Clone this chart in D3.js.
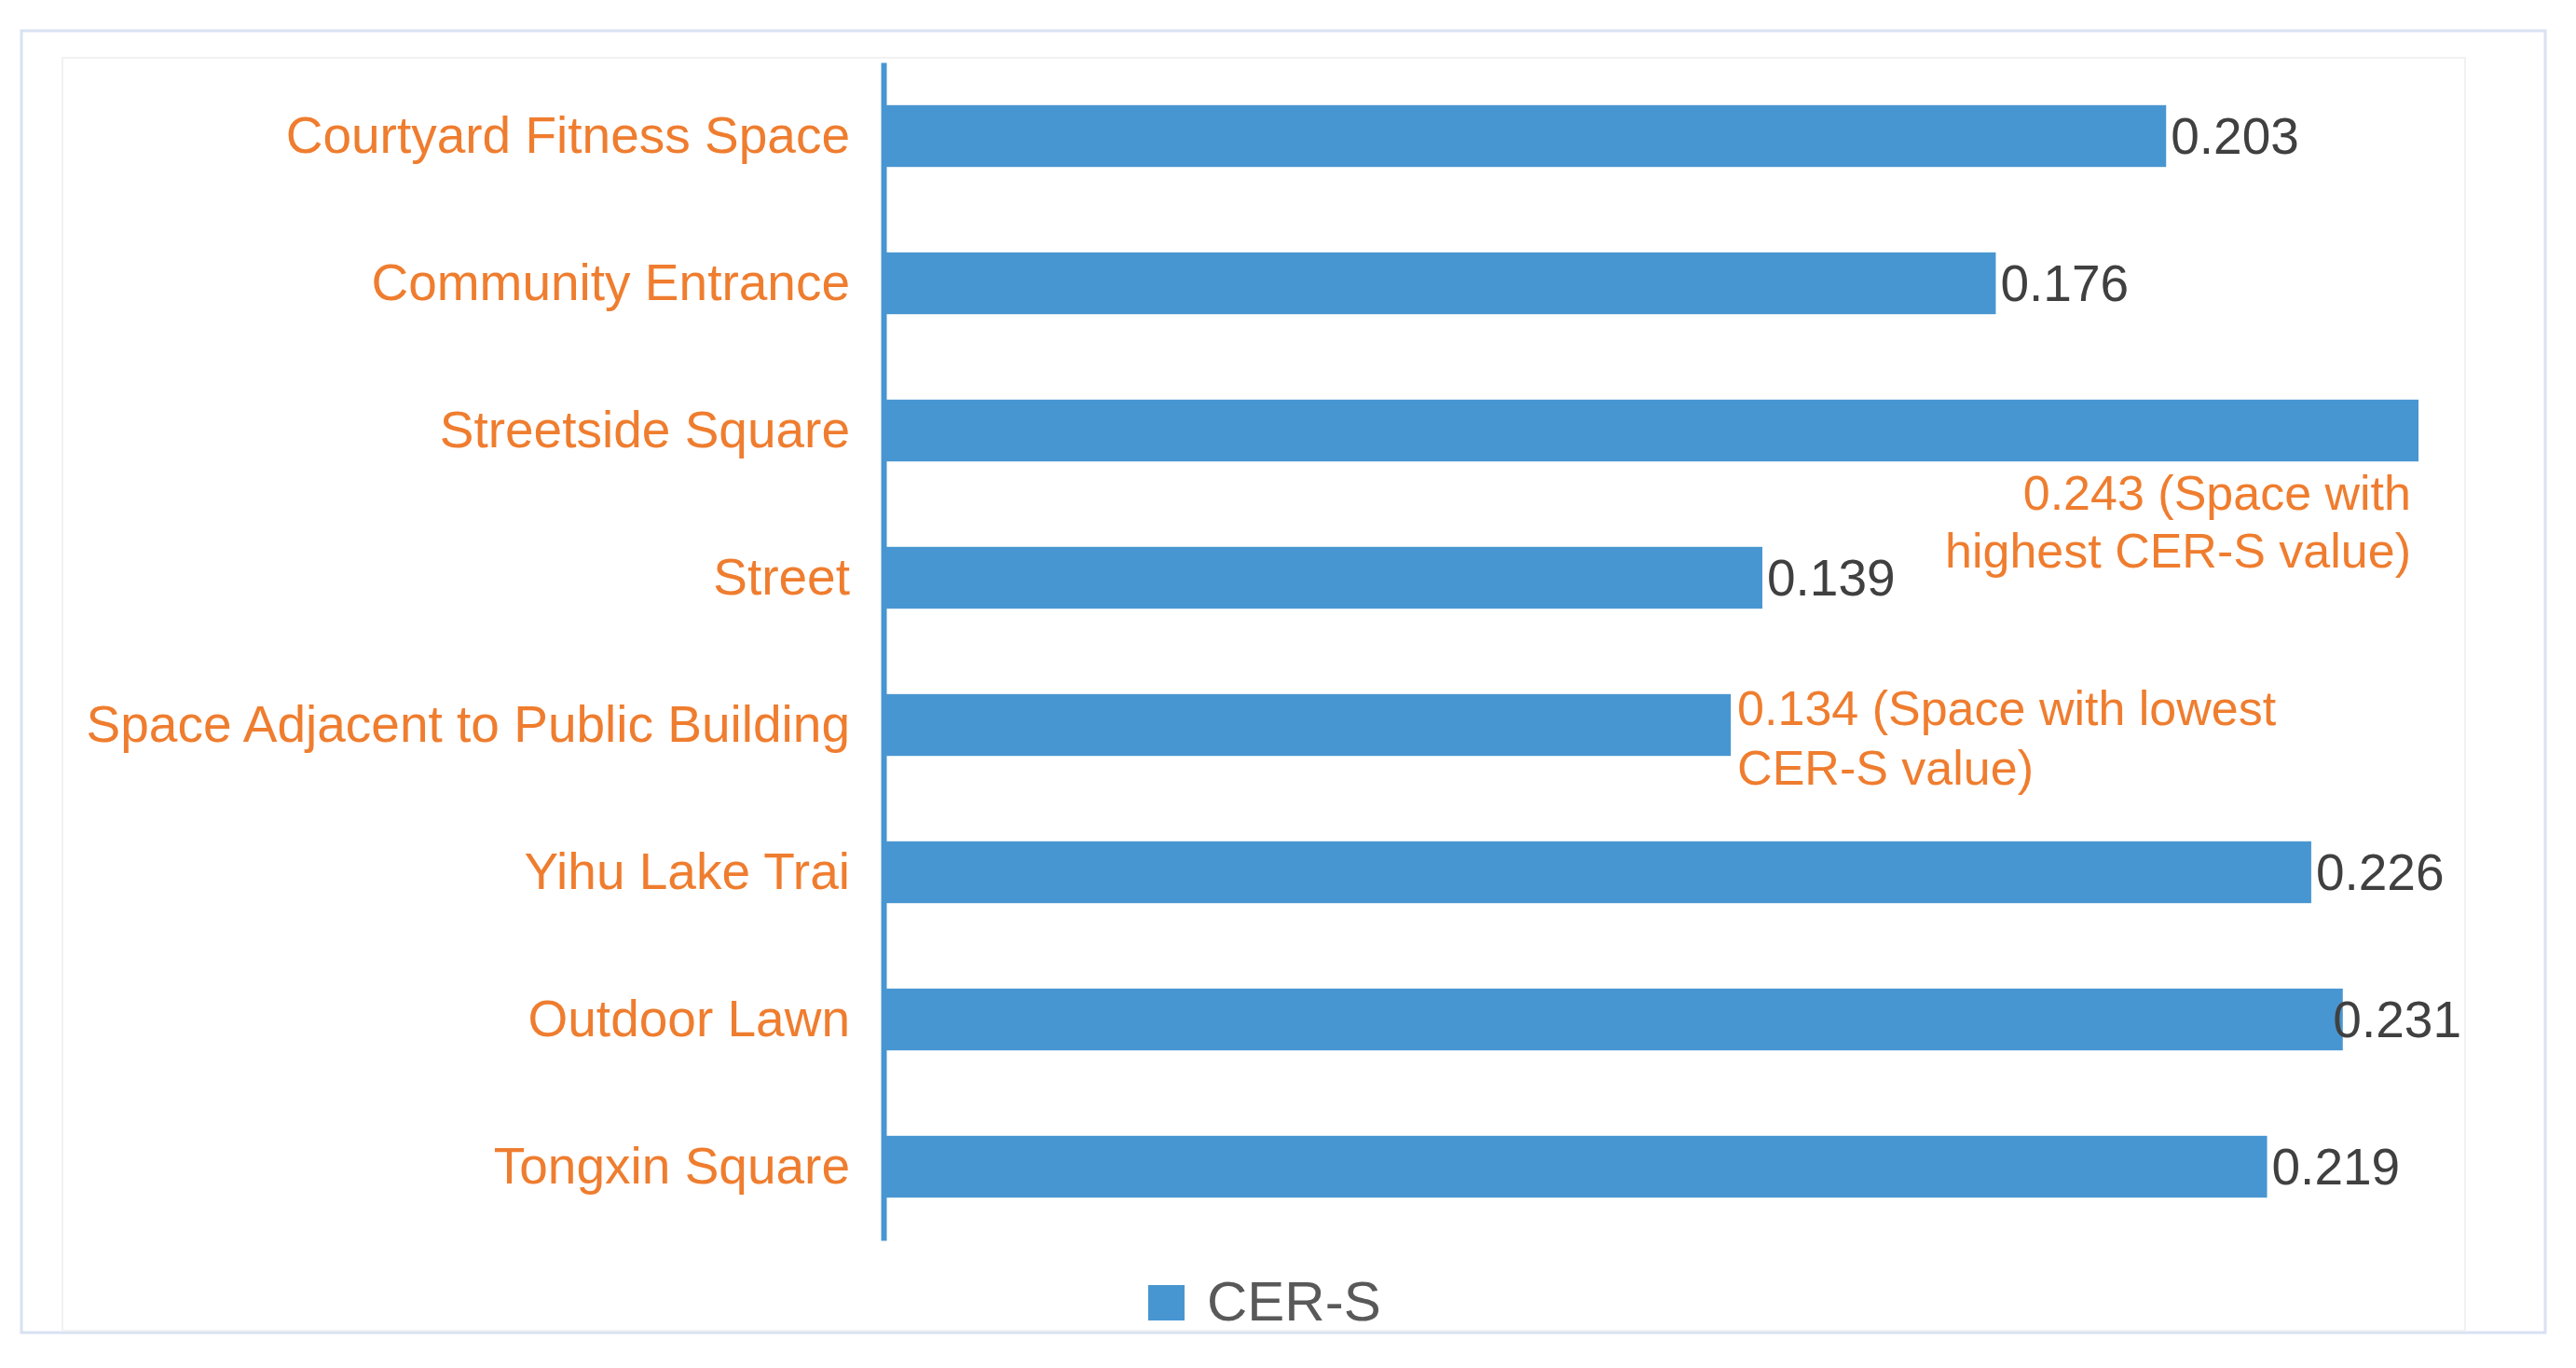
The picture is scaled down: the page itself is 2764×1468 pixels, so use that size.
<!DOCTYPE html>
<html>
<head>
<meta charset="utf-8">
<script src="https://cdn.jsdelivr.net/npm/d3@7"></script>
<style>
  html, body { margin: 0; padding: 0; background: #ffffff; }
  svg { display: block; font-family: "Liberation Sans", Arial, sans-serif; }
</style>
</head>
<body>
<div id="chart"></div>
<script>
// dados do gráfico
const categories = [
  "Courtyard Fitness Space",
  "Community Entrance",
  "Streetside Square",
  "Street",
  "Space Adjacent to Public Building",
  "Yihu Lake Trai",
  "Outdoor Lawn",
  "Tongxin Square"
];
const values = [0.203, 0.176, 0.243, 0.139, 0.134, 0.226, 0.231, 0.219];
const seriesName = "CER-S";
const highNote = ["0.243 (Space with", "highest CER-S value)"];
const lowNote = ["0.134 (Space with lowest", "CER-S value)"];

const W = 2764, H = 1468;
const blue = "#4896d1", orange = "#ef7d2f", dark = "#404040";

const svg = d3.select("#chart").append("svg")
  .attr("width", W).attr("height", H);

// moldura externa e área interna
svg.append("rect")
  .attr("x", 23).attr("y", 33).attr("width", 2708).attr("height", 1397)
  .attr("fill", "#fff").attr("stroke", "#d8e1f2").attr("stroke-width", 3);
svg.append("rect")
  .attr("x", 67).attr("y", 62).attr("width", 2578).attr("height", 1366)
  .attr("fill", "none").attr("stroke", "#f1f1f1").attr("stroke-width", 2);

const xScale = d3.scaleLinear().domain([0, 0.243]).range([950, 2595]);
const yScale = d3.scaleBand().domain(categories).range([67, 1331])
  .paddingInner(0.58).paddingOuter(0.29);

// barras
svg.append("g").selectAll("rect")
  .data(values)
  .join("rect")
  .attr("x", xScale(0))
  .attr("y", (d, i) => yScale(categories[i]))
  .attr("width", d => xScale(d) - xScale(0))
  .attr("height", yScale.bandwidth())
  .attr("fill", blue);

// eixo vertical sem ticks
const yAxis = d3.axisLeft(yScale).tickSize(0).tickPadding(36);
const gAxis = svg.append("g")
  .attr("transform", `translate(${xScale(0) - 2},0)`)
  .call(yAxis);
gAxis.select(".domain").attr("stroke", blue).attr("stroke-width", 6);
gAxis.selectAll("text")
  .attr("fill", orange)
  .attr("font-size", 55)
  .attr("font-family", "Liberation Sans, Arial, sans-serif");

// rótulos de valor (com limite na direita)
const rightLimit = 2641;
const labels = svg.append("g").selectAll("text")
  .data(values.map((v, i) => ({ v, c: categories[i] })).filter(d => d.v !== 0.243 && d.v !== 0.134))
  .join("text")
  .attr("y", d => yScale(d.c) + yScale.bandwidth() / 2)
  .attr("dy", "0.35em")
  .attr("font-size", 55)
  .attr("fill", dark)
  .text(d => d.v.toFixed(3));
labels.each(function(d) {
  const w = this.getComputedTextLength();
  let x = xScale(d.v) + 5;
  if (x + w > rightLimit) x = rightLimit - w;
  d3.select(this).attr("x", x);
});

// anotações dos extremos
const hiY = yScale("Streetside Square") + yScale.bandwidth();
svg.append("text")
  .attr("x", xScale(0.243) - 8)
  .attr("y", hiY + 52)
  .attr("text-anchor", "end")
  .attr("font-size", 52)
  .attr("fill", orange)
  .selectAll("tspan")
  .data(highNote)
  .join("tspan")
  .attr("x", xScale(0.243) - 8)
  .attr("dy", (d, i) => i === 0 ? 0 : 62)
  .text(d => d);

const loY = yScale("Space Adjacent to Public Building") + yScale.bandwidth() / 2;
svg.append("text")
  .attr("x", xScale(0.134) + 7)
  .attr("y", loY)
  .attr("font-size", 52)
  .attr("fill", orange)
  .selectAll("tspan")
  .data(lowNote)
  .join("tspan")
  .attr("x", xScale(0.134) + 7)
  .attr("dy", (d, i) => i === 0 ? 0 : 64)
  .text(d => d);

// legenda
const legend = svg.append("g").attr("transform", "translate(1232,1379)");
legend.append("rect").attr("width", 39).attr("height", 38).attr("fill", blue);
legend.append("text")
  .attr("x", 63).attr("y", 38)
  .attr("font-size", 60)
  .attr("fill", "#595959")
  .text(seriesName);
</script>
</body>
</html>
